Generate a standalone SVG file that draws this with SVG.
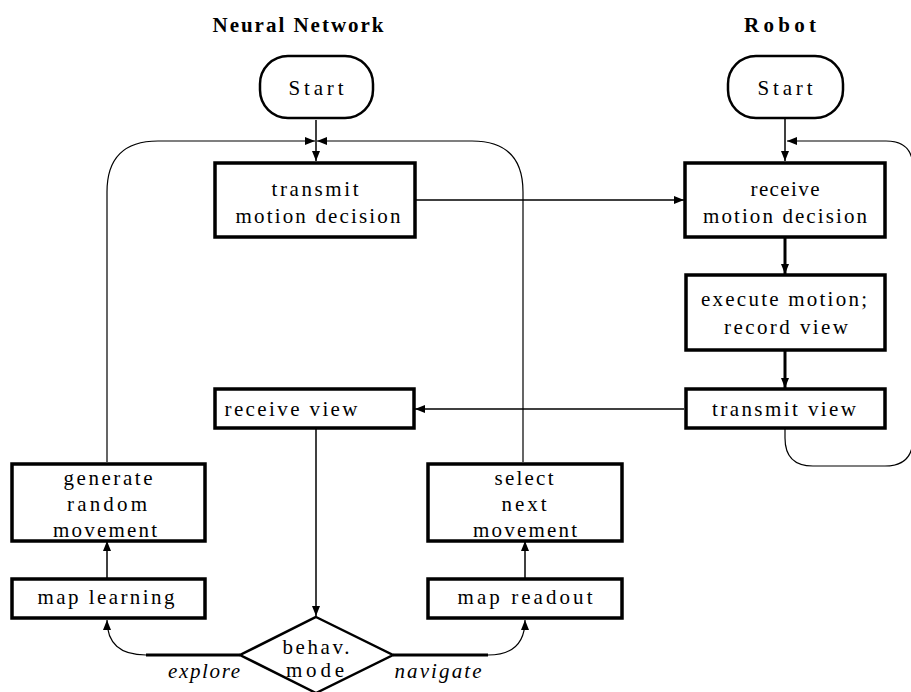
<svg xmlns="http://www.w3.org/2000/svg" width="911" height="692" viewBox="0 0 911 692">
<defs>
<marker id="ah" markerUnits="userSpaceOnUse" markerWidth="10" markerHeight="8" viewBox="0 0 10 8" refX="10" refY="4" orient="auto">
<path d="M0,0 L10,4 L0,8 Z" fill="#000"/>
</marker>
</defs>
<style>
text{font-family:"Liberation Serif","Times New Roman",serif;font-size:21px;fill:#000;text-anchor:middle}
.t{font-weight:bold}
.i{font-style:italic}
.box{fill:#fff;stroke:#000;stroke-width:3.5}
.term{fill:#fff;stroke:#000;stroke-width:2.5}
.c{fill:none;stroke:#000;stroke-width:1.5}
.cc{fill:none;stroke:#000;stroke-width:1.2}
.ck{fill:none;stroke:#000;stroke-width:3}
</style>
<rect width="911" height="692" fill="#fff"/>
<text class="t" x="298" y="32" textLength="171" lengthAdjust="spacing">Neural Network</text>
<text class="t" x="780" y="32" textLength="72" lengthAdjust="spacing">Robot</text>
<g id="connectors">
<path class="c" d="M316,120 V161" marker-end="url(#ah)"/>
<path class="cc" d="M107,462 V192 Q107,141 158,141 H315" marker-end="url(#ah)"/>
<path class="cc" d="M523,462 V192 Q523,141 472,141 H317" marker-end="url(#ah)"/>
<path class="c" d="M415,200 H684" marker-end="url(#ah)"/>
<path class="c" d="M785,119 V161" stroke-width="2.5" marker-end="url(#ah)"/>
<path class="ck" d="M785,238 V274" marker-end="url(#ah)"/>
<path class="ck" d="M785,351 V388" marker-end="url(#ah)"/>
<path class="c" d="M684,409 H415" marker-end="url(#ah)"/>
<path class="cc" d="M785,429 V438 Q785,466 813,466 H885 Q913,466 913,438 V168 Q913,141 886,141 H787" marker-end="url(#ah)"/>
<path class="c" d="M316,429 V616" marker-end="url(#ah)"/>
<path class="ck" d="M240,655 H146"/>
<path class="cc" d="M146,655 Q107,655 107,620" marker-end="url(#ah)"/>
<path class="ck" d="M393,655 H488"/>
<path class="cc" d="M488,655 Q525,655 525,620" marker-end="url(#ah)"/>
<path class="c" d="M107,578 V541" marker-end="url(#ah)"/>
<path class="c" d="M525,578 V541" marker-end="url(#ah)"/>
</g>
<g id="start-nn">
<rect class="term" x="260" y="56" width="113" height="62" rx="28" ry="28"/>
<text x="316" y="95" textLength="55" lengthAdjust="spacing">Start</text>
</g>
<g id="start-robot">
<rect class="term" x="728" y="56" width="115" height="62" rx="28" ry="28"/>
<text x="785" y="95" textLength="55" lengthAdjust="spacing">Start</text>
</g>
<g id="transmit-motion">
<rect class="box" x="215" y="163" width="200" height="74"/>
<text x="315" y="196" textLength="87" lengthAdjust="spacing">transmit</text>
<text x="318" y="223" textLength="165" lengthAdjust="spacing">motion decision</text>
</g>
<g id="receive-motion">
<rect class="box" x="685" y="163" width="200" height="74"/>
<text x="785" y="196" textLength="69" lengthAdjust="spacing">receive</text>
<text x="785" y="223" textLength="164" lengthAdjust="spacing">motion decision</text>
</g>
<g id="execute">
<rect class="box" x="686" y="275" width="199" height="75"/>
<text x="784" y="306" textLength="166" lengthAdjust="spacing">execute motion;</text>
<text x="786" y="334" textLength="124" lengthAdjust="spacing">record view</text>
</g>
<g id="transmit-view">
<rect class="box" x="686" y="389" width="199" height="39"/>
<text x="784" y="416" textLength="144" lengthAdjust="spacing">transmit view</text>
</g>
<g id="receive-view">
<rect class="box" x="215" y="389" width="199" height="39"/>
<text x="291" y="416" textLength="133" lengthAdjust="spacing">receive view</text>
</g>
<g id="generate">
<rect class="box" x="12" y="464" width="193" height="77"/>
<text x="108" y="485" textLength="89" lengthAdjust="spacing">generate</text>
<text x="107" y="511" textLength="80" lengthAdjust="spacing">random</text>
<text x="105" y="537" textLength="104" lengthAdjust="spacing">movement</text>
</g>
<g id="select">
<rect class="box" x="428" y="464" width="194" height="77"/>
<text x="524" y="485" textLength="59" lengthAdjust="spacing">select</text>
<text x="524" y="511" textLength="45" lengthAdjust="spacing">next</text>
<text x="525" y="537" textLength="104" lengthAdjust="spacing">movement</text>
</g>
<g id="map-learning">
<rect class="box" x="12" y="579" width="193" height="39"/>
<text x="106" y="604" textLength="137" lengthAdjust="spacing">map learning</text>
</g>
<g id="map-readout">
<rect class="box" x="428" y="579" width="194" height="39"/>
<text x="525" y="604" textLength="135" lengthAdjust="spacing">map readout</text>
</g>
<g id="behav-mode">
<path class="term" stroke-width="3" d="M316,617 L393,655 L316,693 L240,655 Z"/>
<text x="316" y="654" textLength="67" lengthAdjust="spacing">behav.</text>
<text x="315" y="677" textLength="58" lengthAdjust="spacing">mode</text>
</g>
<text class="i" x="204" y="678" textLength="72" lengthAdjust="spacing">explore</text>
<text class="i" x="438" y="678" textLength="87" lengthAdjust="spacing">navigate</text>
</svg>
